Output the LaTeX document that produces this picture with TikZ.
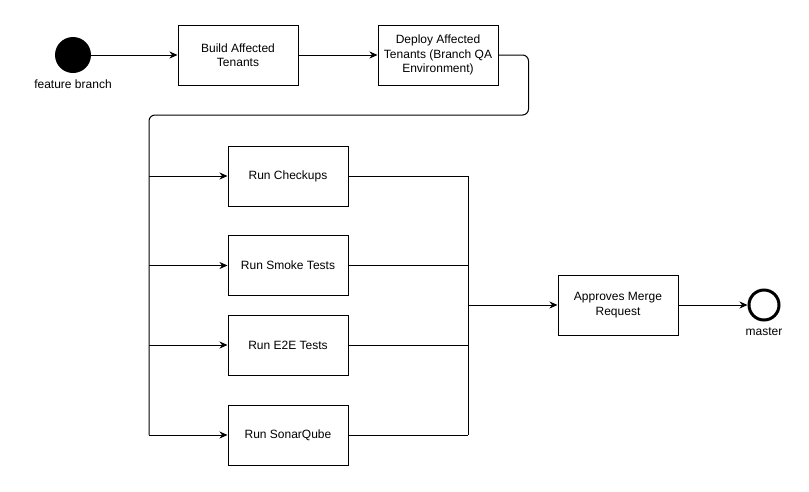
\documentclass[tikz,border=0pt]{standalone}
\usepackage{fontspec}
\setmainfont{Liberation Sans}
\usetikzlibrary{arrows.meta,positioning}
\tikzset{
  task/.style={draw=black, line width=1pt, fill=white, text=black,
               align=center, minimum width=120pt, minimum height=60pt,
               inner sep=2pt, font=\fontsize{12}{14.5}\selectfont},
  flow/.style={-{Stealth[length=8pt,width=7pt,inset=2.5pt]}, line width=1pt},
  link/.style={line width=1pt},
  lbl/.style={font=\fontsize{12}{14}\selectfont, text=black}
}
\begin{document}
\begin{tikzpicture}[x=1pt, y=-1pt]
  \useasboundingbox (0,0) rectangle (809,491);
  \node[circle, fill=black, minimum size=36pt, inner sep=0pt] (start) at (73,55) {};
  \node[lbl, below=3pt of start] (startlbl) {feature branch};
  \node[task] (build) at (238,55) {Build Affected\\Tenants};
  \node[task] (deploy) at (438,55) {Deploy Affected\\Tenants (Branch QA\\Environment)};
  \node[task] (checkups) at (288,176) {Run Checkups};
  \node[task] (smoke) at (288,265.5) {Run Smoke Tests};
  \node[task] (etoe) at (288,345) {Run E2E Tests};
  \node[task] (sonar) at (288,435) {Run SonarQube};
  \node[task] (approve) at (618,305) {Approves Merge\\Request};
  \node[circle, draw=black, line width=3pt, minimum size=30pt, inner sep=0pt] (finish) at (764,305) {};
  \node[lbl, below=3pt of finish] (finishlbl) {master};
  \coordinate (split) at (149,115);
  \coordinate (join) at (468,305);
  \draw[flow] (start) -- (build);
  \draw[flow] (build) -- (deploy);
  \draw[link, rounded corners=6pt] (deploy.east) -- ++(30,0) |- (split) -- (split |- sonar);
  \foreach \t in {checkups, smoke, etoe, sonar} {
    \draw[flow] (split |- \t) -- (\t.west);
    \draw[link] (\t.east) -- (join |- \t);
  }
  \draw[link] (join |- checkups) -- (join |- sonar);
  \draw[flow] (join) -- (approve);
  \draw[flow] (approve) -- (finish);
\end{tikzpicture}
\end{document}
